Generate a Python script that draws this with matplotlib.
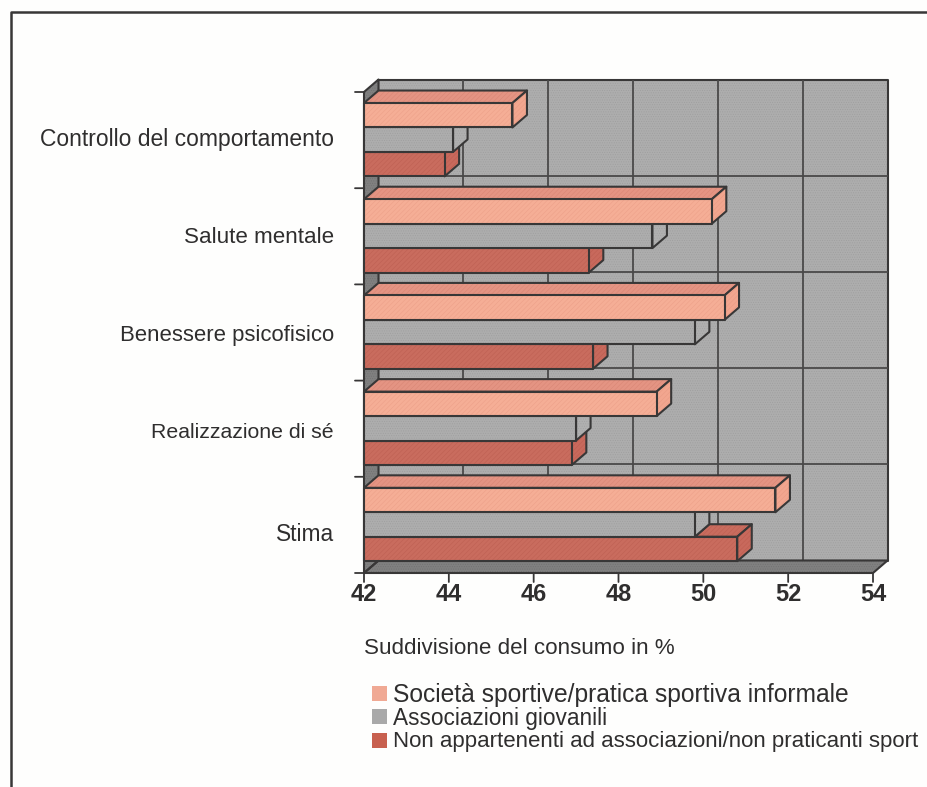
import matplotlib
matplotlib.use("Agg")
import matplotlib.pyplot as plt
from matplotlib.patches import Polygon, Rectangle

plt.rcParams['font.family'] = ['Liberation Sans', 'DejaVu Sans']
plt.rcParams['hatch.linewidth'] = 0.35

W, H = 927, 787
categories = ["Controllo del comportamento", "Salute mentale", "Benessere psicofisico",
              "Realizzazione di sé", "Stima"]
societa = [45.5, 50.2, 50.5, 48.9, 51.7]
giovanili = [44.1, 48.8, 49.8, 47.0, 49.8]
non_app = [43.9, 47.3, 47.4, 46.9, 50.8]
series_names = ["Società sportive/pratica sportiva informale", "Associazioni giovanili",
                "Non appartenenti ad associazioni/non praticanti sport"]
x_ticks = [42, 44, 46, 48, 50, 52, 54]
x_title = "Suddivisione del consumo in %"

DARK = "#383737"
WALL = "#adadad"
SHADE = "#808080"
FRONT = ["#f5ae96", "#adadad", "#c96c5e"]
TOP = ["#e49483", "#adadad", "#c96c5e"]
SIDE = ["#f2a68f", "#b0b0b0", "#c8695c"]
HATCH = {"#adadad": ("#9d9d9d", "......."), "#b0b0b0": ("#a0a0a0", "......."),
         "#808080": ("#707070", "......."), "#f5ae96": ("#ec9f88", "///////"),
         "#e49483": ("#d98574", "///////"), "#f2a68f": ("#e89a83", "///////"),
         "#c96c5e": ("#bd5f52", "///////"), "#c8695c": ("#bc5c4f", "///////")}

fig = plt.figure(figsize=(W / 100, H / 100), dpi=100, facecolor="#fefefd")
L, R, T, B = 364, 873, 92, 573
ax = fig.add_axes([L / W, 1 - B / H, (R - L) / W, (B - T) / H])
ax.set_xlim(42, 54)
ax.set_ylim(5, 0)
ax.axis("off")
ax.patch.set_visible(False)

dx = 14.5 / ((R - L) / 12)
dy = 12.5 / ((B - T) / 5)
x0, x1 = 42, 54
lw = 1.5

def poly(pts, fc, z=2, lw=lw):
    hc, h = HATCH[fc]
    ax.add_patch(Polygon(pts, closed=True, fc=fc, ec=hc, hatch=h, lw=0, zorder=z, clip_on=False))
    ax.add_patch(Polygon(pts, closed=True, fc="none", ec=DARK, lw=lw, zorder=z + 0.001,
                         joinstyle="round", clip_on=False))

def line(xs, ys, z=1.5, lw=1.3):
    ax.plot(xs, ys, color="#4a4949", lw=lw, zorder=z, clip_on=False, solid_capstyle="butt")

# walls
poly([(x0 + dx, -dy), (x1 + dx, -dy), (x1 + dx, 5 - dy), (x0 + dx, 5 - dy)], WALL, 1)
for t in x_ticks[1:-1]:
    line([t + dx, t + dx], [-dy, 5 - dy])
for i in range(1, 5):
    line([x0 + dx, x1 + dx], [i - dy, i - dy])
poly([(x0, 0), (x0 + dx, -dy), (x0 + dx, 5 - dy), (x0, 5)], SHADE, 1.6)
poly([(x0, 5), (x0 + dx, 5 - dy), (x1 + dx, 5 - dy), (x1, 5)], SHADE, 1.6)

# ticks
for t in x_ticks:
    ax.annotate("", (t, 5), xytext=(0, -9), textcoords="offset pixels",
                arrowprops=dict(arrowstyle="-", color=DARK, lw=1.3, shrinkA=0, shrinkB=0),
                annotation_clip=False)
    ax.annotate(str(t), (t, 5), xytext=(0, -10), textcoords="offset pixels", ha="center", va="top",
                fontsize=17, fontweight="bold", color="#2f2e2e", annotation_clip=False)
for i in range(6):
    ax.annotate("", (x0, i), xytext=(-9, 0), textcoords="offset pixels",
                arrowprops=dict(arrowstyle="-", color=DARK, lw=1.3, shrinkA=0, shrinkB=0),
                annotation_clip=False)
label_pos = [0.49, 1.51, 2.53, 3.54, 4.60]
label_size = [16.5, 16.1, 15.9, 15.3, 16.4]
for c, p, s in zip(categories, label_pos, label_size):
    ax.annotate(c, (x0, p), xytext=(-30, 0), textcoords="offset pixels", ha="right", va="center",
                fontsize=s, color="#2f2e2e", annotation_clip=False)

# bars
bh = 24.4 / 96
pad = 11 / 96
z = 3
for i in range(5):
    vals = [societa[i], giovanili[i], non_app[i]]
    for j in [2, 1, 0]:
        v = vals[j]
        yt, yb = i + pad + j * bh, i + pad + (j + 1) * bh
        start = x0 if j == 0 else max(x0, vals[j - 1]) if v > vals[j - 1] else None
        if start is not None:
            poly([(start, yt), (start + dx, yt - dy), (v + dx, yt - dy), (v, yt)], TOP[j], z)
            z += 0.01
        poly([(v, yt), (v + dx, yt - dy), (v + dx, yb - dy), (v, yb)], SIDE[j], z)
        z += 0.01
    for j in [2, 1, 0]:
        v = vals[j]
        yt = i + pad + j * bh
        poly([(x0, yt), (v, yt), (v, yt + bh), (x0, yt + bh)], FRONT[j], z)
        z += 0.01

# text below
fig.text(364 / W, 1 - 649 / H, x_title, fontsize=16.1, color="#2f2e2e", va="center", ha="left")
leg_y = [694, 717, 741]
text_y = [695, 719, 742]
text_size = [17.7, 16.3, 16.05]
for name, col, y, ty, s in zip(series_names, ["#f0a994", "#a9a9a9", "#c8604f"], leg_y, text_y, text_size):
    fig.patches.append(Rectangle((372 / W, 1 - (y + 7) / H), 15 / W, 15 / H, fc=col, ec="none",
                                 transform=fig.transFigure))
    fig.text(393 / W, 1 - ty / H, name, fontsize=s, color="#2f2e2e", va="center", ha="left")

# frame
fig.add_artist(plt.Line2D([10.5 / W, 10.5 / W, 1], [0, 1 - 12 / H, 1 - 12 / H], color=DARK, lw=1.8))

fig.savefig("out.png", dpi=100, facecolor=fig.get_facecolor())
